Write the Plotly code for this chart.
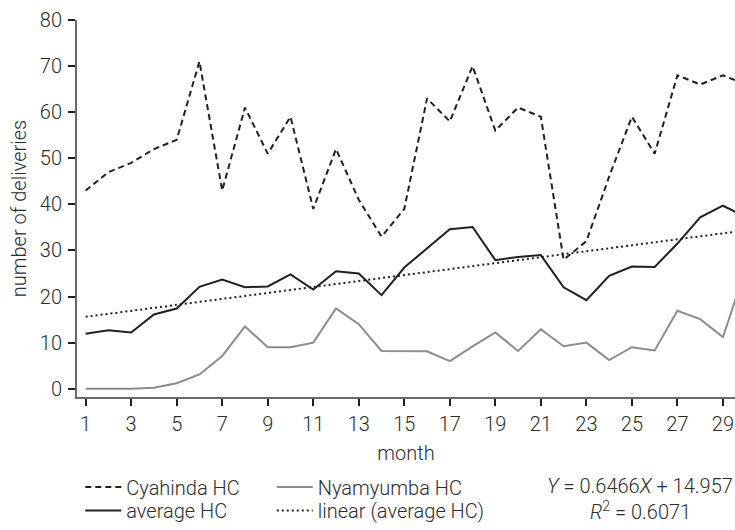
import plotly.graph_objects as go

# Monthly number of deliveries per health centre
months = list(range(1, 31))
cyahinda = [43, 47, 49, 52, 54, 71, 43, 61, 51, 59, 39, 52, 41, 33, 39,
            63, 58, 70, 56, 61, 59, 28, 32, 46, 59, 51, 68, 66, 68, 66]
nyamyumba = [0, 0, 0, 0.2, 1.2, 3.1, 7.1, 13.5, 9.0, 9.0, 10.0, 17.4, 14.0, 8.2, 8.2,
             8.1, 6.0, 9.2, 12.2, 8.2, 12.9, 9.2, 10.0, 6.2, 9.0, 8.3, 16.9, 15.1, 11.2, 26]
average = [11.9, 12.7, 12.2, 16.1, 17.4, 22.1, 23.7, 22.0, 22.2, 24.8, 21.5, 25.5, 25.0, 20.3, 26.3,
           30.5, 34.6, 35.1, 27.9, 28.6, 29.0, 22.0, 19.2, 24.5, 26.5, 26.4, 31.5, 37.2, 39.7, 37.3]

# Linear trend of the average
slope = 0.6466
intercept = 14.957
r_squared = 0.6071
trend = [slope * m + intercept for m in months]

x_ticks = list(range(1, 30, 2))
y_ticks = list(range(0, 81, 10))

BLACK = "#231f20"
GREY = "#8c8c8c"
AXIS = "#6a6a6a"
TEXT = "#2c2c2c"
FONT = "Roboto"
SIZE = 20
WEIGHT = 300

fig = go.Figure()
fig.add_trace(go.Scatter(x=months, y=cyahinda, mode="lines", name="Cyahinda HC",
                         line=dict(color=BLACK, width=2, dash="6px,4px"), legend="legend"))
fig.add_trace(go.Scatter(x=months, y=nyamyumba, mode="lines", name="Nyamyumba HC",
                         line=dict(color=GREY, width=2), legend="legend2"))
fig.add_trace(go.Scatter(x=months, y=average, mode="lines", name="average HC",
                         line=dict(color=BLACK, width=2), legend="legend3"))
fig.add_trace(go.Scatter(x=months, y=trend, mode="lines", name="linear (average HC)",
                         line=dict(color=BLACK, width=2, dash="2px,3px"), legend="legend4"))

text_font = dict(family=FONT, size=SIZE, color=TEXT, weight=WEIGHT)

# One legend box per entry, laid out as a 2 x 2 grid under the axis
legend_common = dict(orientation="h", xanchor="left", yanchor="middle",
                     font=text_font, itemwidth=36,
                     bgcolor="rgba(0,0,0,0)", tracegroupgap=0)
col1, col2 = 0.005, 0.296
row1, row2 = -0.239, -0.302

fig.update_layout(
    width=735, height=530,
    margin=dict(l=77, r=0, t=20, b=130),
    paper_bgcolor="white", plot_bgcolor="white",
    font=text_font,
    showlegend=True,
    legend=dict(x=col1, y=row1, **legend_common),
    legend2=dict(x=col2, y=row1, **legend_common),
    legend3=dict(x=col1, y=row2, **legend_common),
    legend4=dict(x=col2, y=row2, **legend_common),
    xaxis=dict(range=[0.62, 29.53], tickvals=x_ticks, showgrid=False, zeroline=False,
               showline=True, linecolor=AXIS, linewidth=2,
               ticks="outside", ticklen=7, tickwidth=2, tickcolor=BLACK,
               tickfont=text_font, ticklabelstandoff=1,
               title=dict(text="month", font=text_font, standoff=11)),
    yaxis=dict(range=[-1.8, 80], tickvals=y_ticks, showgrid=False, zeroline=False,
               showline=True, linecolor=AXIS, linewidth=2,
               ticks="outside", ticklen=7, tickwidth=2, tickcolor=BLACK,
               tickfont=text_font, ticklabelstandoff=2,
               title=dict(text="number of deliveries", font=text_font, standoff=8)),
)

fig.add_annotation(xref="paper", yref="paper", x=1.0, y=-0.237, xanchor="right", yanchor="middle",
                   text=f"<i>Y</i> = {slope}<i>X</i> + {intercept}", showarrow=False,
                   font=text_font)
fig.add_annotation(xref="paper", yref="paper", x=0.857, y=row2, xanchor="center", yanchor="middle",
                   text=f"<i>R</i><sup>2</sup> = {r_squared}", showarrow=False,
                   font=text_font)

fig.write_html("out.html")
